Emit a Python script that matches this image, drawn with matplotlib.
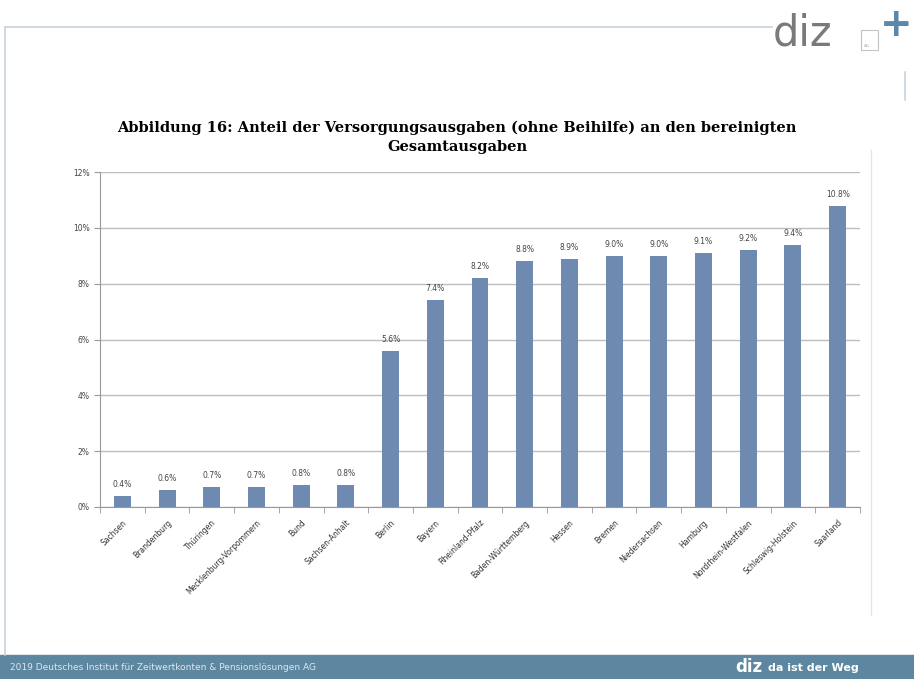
import matplotlib.pyplot as plt
import numpy as np

laender = ['Sachsen', 'Brandenburg', 'Thüringen', 'Mecklenburg-Vorpommern', 'Bund',
           'Sachsen-Anhalt', 'Berlin', 'Bayern', 'Rheinland-Pfalz', 'Baden-Württemberg',
           'Hessen', 'Bremen', 'Niedersachsen', 'Hamburg', 'Nordrhein-Westfalen',
           'Schleswig-Holstein', 'Saarland']
anteil = [0.4, 0.6, 0.7, 0.7, 0.8, 0.8, 5.6, 7.4, 8.2, 8.8, 8.9, 9.0, 9.0, 9.1, 9.2, 9.4, 10.8]
y_ticks = [0, 2, 4, 6, 8, 10, 12]

fig = plt.figure(figsize=(9.14, 6.79), dpi=100)

# Folienrahmen
fig.add_artist(plt.Line2D([5/914, 772/914], [1-27/679, 1-27/679], color='#c8d3dc', lw=1.2))
fig.add_artist(plt.Line2D([5/914, 5/914], [1-27/679, 1-655/679], color='#c8d3dc', lw=1.2))
fig.add_artist(plt.Line2D([905/914, 905/914], [1-72/679, 1-100/679], color='#c8d3dc', lw=1.2))
fig.add_artist(plt.Line2D([871/914, 871/914], [1-150/679, 1-615/679], color='#e4e4e4', lw=1))
fig.add_artist(plt.Rectangle((0, 0), 1, 24/679, color='#5d87a1', transform=fig.transFigure))
fig.text(10/914, 12/679, '2019 Deutsches Institut für Zeitwertkonten & Pensionslösungen AG',
         color='#dde7ee', fontsize=6.5, va='center', family='Liberation Sans Narrow')
fig.text(735/914, 12/679, 'diz', color='white', fontsize=12, va='center', fontweight='bold')
fig.text(768/914, 11/679, 'da ist der Weg', color='white', fontsize=8, va='center', fontweight='bold')

# Logo oben rechts
fig.text(773/914, 1-34/679, 'diz', color='#7a7a7a', fontsize=30, va='center')
fig.add_artist(plt.Rectangle((861/914, 1-50/679), 17/914, 20/679, fill=False,
                             edgecolor='#c4c4c4', lw=0.8, transform=fig.transFigure))
fig.text(864/914, 1-46/679, 'AG', color='#b0b0b0', fontsize=3, va='center')
fig.text(896/914, 1-25/679, '+', color='#5d87a8', fontsize=28, va='center', ha='center',
         fontweight='bold')

ax = fig.add_axes([100/914, 1-507/679, 760/914, 335/679])
x = np.arange(len(laender))
ax.bar(x, anteil, width=0.38, color='#6f8ab0', zorder=3)
for xi, v in zip(x, anteil):
    ax.text(xi, v + 0.25, f'{v:.1f}%', ha='center', va='bottom', fontsize=5.5, color='#444444')

ax.set_xlim(-0.5, len(laender) - 0.5)
ax.set_ylim(0, 12)
ax.set_yticks(y_ticks)
ax.set_yticklabels([f'{t}%' for t in y_ticks], fontsize=5.5, color='#444444')
ax.yaxis.grid(True, color='#bdbdbd', lw=1, zorder=0)
ax.set_xticks(x)
ax.set_xticklabels(laender, rotation=45, ha='right', rotation_mode='anchor', fontsize=5.5,
                   color='#333333')
ax.tick_params(axis='x', length=0, pad=8)
ax.set_xticks(np.arange(-0.5, len(laender)), minor=True)
ax.tick_params(axis='x', which='minor', length=4, color='#999999')
ax.tick_params(axis='y', length=4, color='#999999')
for s in ['top', 'right']:
    ax.spines[s].set_visible(False)
ax.spines['left'].set_color('#999999')
ax.spines['bottom'].set_color('#999999')

fig.text(0.5, 1-128/679, 'Abbildung 16: Anteil der Versorgungsausgaben (ohne Beihilfe) an den bereinigten',
         ha='center', va='center', fontsize=10.5, fontweight='bold', family='DejaVu Serif')
fig.text(0.5, 1-147/679, 'Gesamtausgaben', ha='center', va='center', fontsize=10.5,
         fontweight='bold', family='DejaVu Serif')

plt.savefig('out.png', dpi=100)
